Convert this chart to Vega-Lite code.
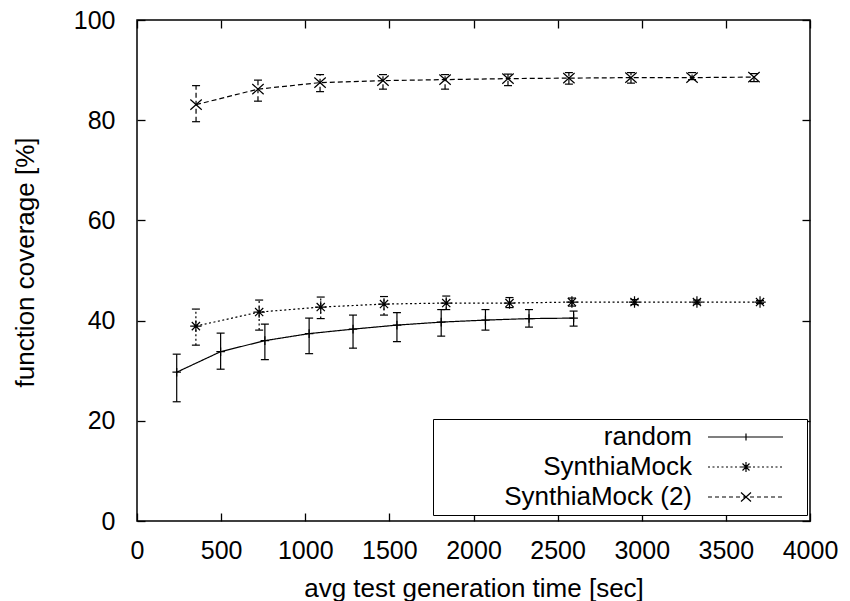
{
  "$schema": "https://vega.github.io/schema/vega-lite/v6.json",
  "width": 673,
  "height": 501,
  "autosize": {"type": "none"},
  "padding": {"left": 137, "top": 20, "right": 40, "bottom": 80},
  "background": "white",
  "config": {
    "font": "Liberation Sans",
    "view": {"stroke": "black", "strokeWidth": 1.5},
    "axis": {
      "grid": false,
      "domain": false,
      "ticks": true,
      "tickSize": -8,
      "tickColor": "black",
      "tickWidth": 1.3,
      "labelColor": "black",
      "titleColor": "black",
      "labelFont": "Liberation Sans",
      "titleFont": "Liberation Sans",
      "labelFontSize": 25,
      "titleFontSize": 26,
      "titleFontWeight": "normal",
      "labelFlush": false,
      "labelOverlap": false,
      "format": "d"
    }
  },
  "data": {
    "values": [
      {"series": "random", "t": 236, "cov": 29.7, "lo": 23.8, "hi": 33.3},
      {"series": "random", "t": 497, "cov": 33.8, "lo": 30.3, "hi": 37.5},
      {"series": "random", "t": 760, "cov": 36.0, "lo": 32.2, "hi": 39.3},
      {"series": "random", "t": 1023, "cov": 37.4, "lo": 33.4, "hi": 40.5},
      {"series": "random", "t": 1284, "cov": 38.3, "lo": 34.5, "hi": 41.1},
      {"series": "random", "t": 1545, "cov": 39.1, "lo": 35.8, "hi": 41.6},
      {"series": "random", "t": 1808, "cov": 39.7, "lo": 36.9, "hi": 42.2},
      {"series": "random", "t": 2071, "cov": 40.1, "lo": 38.1, "hi": 42.2},
      {"series": "random", "t": 2330, "cov": 40.4, "lo": 38.7, "hi": 42.2},
      {"series": "random", "t": 2595, "cov": 40.5, "lo": 38.9, "hi": 41.9},
      {"series": "SynthiaMock", "t": 350, "cov": 38.9, "lo": 35.1, "hi": 42.3},
      {"series": "SynthiaMock", "t": 726, "cov": 41.7, "lo": 38.1, "hi": 44.1},
      {"series": "SynthiaMock", "t": 1092, "cov": 42.7, "lo": 40.4, "hi": 44.7},
      {"series": "SynthiaMock", "t": 1468, "cov": 43.3, "lo": 41.1, "hi": 44.8},
      {"series": "SynthiaMock", "t": 1838, "cov": 43.5, "lo": 42.2, "hi": 44.9},
      {"series": "SynthiaMock", "t": 2214, "cov": 43.5, "lo": 42.6, "hi": 44.6},
      {"series": "SynthiaMock", "t": 2585, "cov": 43.7, "lo": 42.9, "hi": 44.5},
      {"series": "SynthiaMock", "t": 2957, "cov": 43.7, "lo": 43.2, "hi": 44.2},
      {"series": "SynthiaMock", "t": 3328, "cov": 43.7, "lo": 43.3, "hi": 44.1},
      {"series": "SynthiaMock", "t": 3703, "cov": 43.7, "lo": 43.4, "hi": 44.0},
      {"series": "SynthiaMock (2)", "t": 351, "cov": 83.1, "lo": 79.7, "hi": 86.9},
      {"series": "SynthiaMock (2)", "t": 719, "cov": 86.2, "lo": 83.8, "hi": 88.0},
      {"series": "SynthiaMock (2)", "t": 1088, "cov": 87.5, "lo": 85.7, "hi": 89.1},
      {"series": "SynthiaMock (2)", "t": 1462, "cov": 87.9, "lo": 86.2, "hi": 89.1},
      {"series": "SynthiaMock (2)", "t": 1831, "cov": 88.1, "lo": 86.2, "hi": 89.1},
      {"series": "SynthiaMock (2)", "t": 2205, "cov": 88.3, "lo": 86.9, "hi": 89.2},
      {"series": "SynthiaMock (2)", "t": 2567, "cov": 88.4, "lo": 87.2, "hi": 89.5},
      {"series": "SynthiaMock (2)", "t": 2936, "cov": 88.5, "lo": 87.4, "hi": 89.5},
      {"series": "SynthiaMock (2)", "t": 3299, "cov": 88.5, "lo": 88.1, "hi": 89.5},
      {"series": "SynthiaMock (2)", "t": 3667, "cov": 88.6, "lo": 87.7, "hi": 89.3}
    ]
  },
  "layer": [
    {
      "mark": {"type": "line", "color": "black", "strokeWidth": 1.2},
      "encoding": {
        "x": {"field": "t", "type": "quantitative", "scale": {"domain": [0, 4000], "nice": false},
              "axis": {"orient": "bottom", "values": [0, 500, 1000, 1500, 2000, 2500, 3000, 3500, 4000], "labelPadding": 25, "titlePadding": 12},
              "title": "avg test generation time [sec]"},
        "y": {"field": "cov", "type": "quantitative", "scale": {"domain": [0, 100], "nice": false},
              "axis": {"orient": "left", "values": [0, 20, 40, 60, 80, 100], "labelPadding": 30, "titlePadding": 35, "titleY": 242},
              "title": "function coverage [%]"},
        "detail": {"field": "series"},
        "strokeDash": {"field": "series", "type": "nominal",
                       "scale": {"domain": ["SynthiaMock", "SynthiaMock (2)", "random"], "range": [[2, 2.5], [5, 3], [1, 0]]},
                       "legend": null}
      }
    },
    {
      "mark": {"type": "rule", "color": "black", "strokeWidth": 1.2},
      "encoding": {
        "x": {"field": "t", "type": "quantitative",
              "axis": {"orient": "top", "values": [0, 500, 1000, 1500, 2000, 2500, 3000, 3500, 4000], "labels": false, "title": null}},
        "y": {"field": "lo", "type": "quantitative",
              "axis": {"orient": "right", "values": [0, 20, 40, 60, 80, 100], "labels": false, "title": null}},
        "y2": {"field": "hi"},
        "strokeDash": {"field": "series", "type": "nominal", "legend": null}
      }
    },
    {
      "mark": {"type": "tick", "orient": "horizontal", "size": 8, "thickness": 1.2, "color": "black", "opacity": 1},
      "encoding": {
        "x": {"field": "t", "type": "quantitative", "axis": null},
        "y": {"field": "lo", "type": "quantitative", "axis": null}
      }
    },
    {
      "mark": {"type": "tick", "orient": "horizontal", "size": 8, "thickness": 1.2, "color": "black", "opacity": 1},
      "encoding": {
        "x": {"field": "t", "type": "quantitative", "axis": null},
        "y": {"field": "hi", "type": "quantitative", "axis": null}
      }
    },
    {
      "mark": {"type": "point", "filled": false, "size": 130, "strokeWidth": 1.2, "color": "black", "opacity": 1},
      "encoding": {
        "x": {"field": "t", "type": "quantitative", "axis": null},
        "y": {"field": "cov", "type": "quantitative", "axis": null},
        "shape": {
          "field": "series", "type": "nominal",
          "scale": {
            "domain": ["SynthiaMock", "SynthiaMock (2)", "random"],
            "range": [
              "M-1,0L1,0M0,-1L0,1M-0.72,-0.72L0.72,0.72M-0.72,0.72L0.72,-0.72",
              "M-1,-0.9L1,0.9M-1,0.9L1,-0.9",
              "M-0.75,0L0.75,0M0,-0.75L0,0.75"
            ]
          },
          "legend": null
        }
      }
    },
    {
      "mark": {"type": "point", "filled": false, "strokeWidth": 1.2, "color": "black", "opacity": 0},
      "encoding": {
        "x": {"field": "t", "type": "quantitative", "axis": null},
        "y": {"field": "cov", "type": "quantitative", "axis": null},
        "shape": {
          "field": "series", "type": "nominal",
          "scale": {
            "domain": ["random", "SynthiaMock", "SynthiaMock (2)"],
            "range": [
              "M-30.8,0M5.3,0M-3.8,0L3.7,0M0,-0.35L0,0.35",
              "M-30.8,0M5.3,0M-3.8,0L-3.6,0M-3.35,0L-3.15,0M-2.9,0L-2.7,0M-2.45,0L-2.25,0M-2,0L-1.8,0M-1.55,0L-1.35,0M-1.1,0L-0.9,0M-0.65,0L-0.45,0M-0.2,0L0,0M0.25,0L0.45,0M0.7,0L0.9,0M1.15,0L1.35,0M1.6,0L1.8,0M2.05,0L2.25,0M2.5,0L2.7,0M2.95,0L3.15,0M3.4,0L3.6,0M-0.5,0L0.5,0M0,-0.5L0,0.5M-0.35,-0.35L0.35,0.35M-0.35,0.35L0.35,-0.35",
              "M-30.8,0M5.3,0M-3.8,0L-3.4,0M-3.1,0L-2.7,0M-2.4,0L-2,0M-1.7,0L-1.3,0M-1,0L-0.6,0M-0.3,0L0.1,0M0.4,0L0.8,0M1.1,0L1.5,0M1.8,0L2.2,0M2.5,0L2.9,0M3.2,0L3.6,0M-0.5,-0.45L0.5,0.45M-0.5,0.45L0.5,-0.45"
            ]
          },
          "legend": {
            "orient": "none",
            "legendX": 296,
            "legendY": 399,
            "title": null,
            "direction": "vertical",
            "padding": 5,
            "strokeColor": "black",
            "fillColor": "white",
            "labelFont": "Liberation Sans",
            "labelFontSize": 26,
            "labelColor": "black",
            "labelAlign": "right",
            "labelOffset": -67,
            "symbolOffset": 295,
            "symbolSize": 400,
            "symbolStrokeWidth": 1.2,
            "symbolOpacity": 1,
            "symbolStrokeColor": "black",
            "symbolFillColor": "transparent",
            "rowPadding": 4,
            "labelLimit": 400,
            "encode": {
              "legend": {"strokeWidth": {"value": 1.5}}
            }
          }
        }
      }
    }
  ],
  "resolve": {"axis": {"x": "independent", "y": "independent"}, "scale": {"shape": "independent"}}
}
